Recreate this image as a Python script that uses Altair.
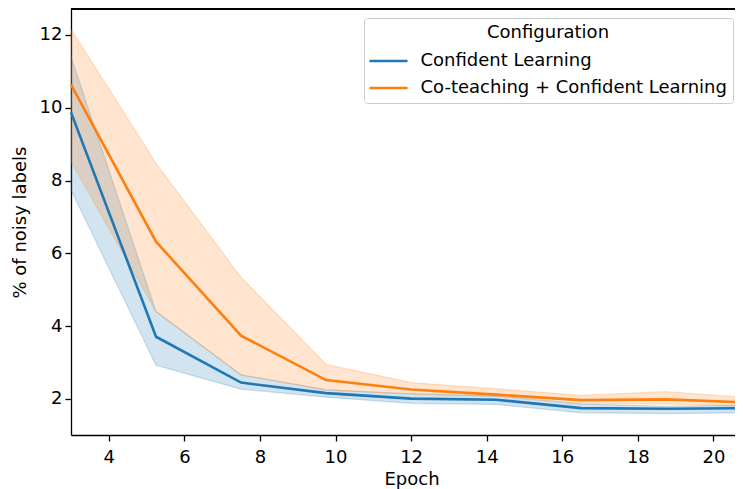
import altair as alt
import pandas as pd

epochs = [3, 5.25, 7.5, 9.75, 12, 14.25, 16.5, 18.75, 21]
configs = ["Confident Learning", "Co-teaching + Confident Learning"]
colors = ["#1f77b4", "#ff7f0e"]

cl_mean = [9.87, 3.71, 2.45, 2.16, 2.01, 1.98, 1.75, 1.73, 1.75]
cl_low = [7.74, 2.93, 2.27, 2.05, 1.88, 1.85, 1.62, 1.60, 1.62]
cl_high = [11.40, 4.40, 2.66, 2.25, 2.14, 2.08, 1.86, 1.80, 1.83]

ct_mean = [10.63, 6.32, 3.74, 2.52, 2.26, 2.12, 1.97, 1.99, 1.90]
ct_low = [8.52, 4.40, 2.66, 2.25, 2.14, 2.08, 1.88, 1.86, 1.80]
ct_high = [12.16, 8.47, 5.34, 2.95, 2.45, 2.28, 2.10, 2.20, 2.03]

x_ticks = [4, 6, 8, 10, 12, 14, 16, 18, 20]
y_ticks = [2, 4, 6, 8, 10, 12]

rows = []
for name, m, lo, hi in [(configs[0], cl_mean, cl_low, cl_high),
                        (configs[1], ct_mean, ct_low, ct_high)]:
    for e, a, b, c in zip(epochs, m, lo, hi):
        rows.append({"Epoch": e, "Configuration": name,
                     "mean": a, "low": b, "high": c})
df = pd.DataFrame(rows)

FONT = "DejaVu Sans"
W, H = 664, 426

x = alt.X("Epoch:Q",
          scale=alt.Scale(domain=[3, 20.57], nice=False, zero=False),
          axis=alt.Axis(values=x_ticks, title="Epoch", labelPadding=7,
                        titlePadding=4, titleX=340.5))
y_axis = alt.Axis(values=y_ticks, title="% of noisy labels", titlePadding=10)
y_scale = alt.Scale(domain=[1.011, 12.71], nice=False, zero=False)


def band_for(i):
    return alt.Chart(df).transform_filter(
        alt.datum.Configuration == configs[i]
    ).mark_area(color=colors[i], fillOpacity=0.2, stroke=colors[i],
                strokeOpacity=0.22, strokeWidth=1.2).encode(
        x=x,
        y=alt.Y("low:Q", scale=y_scale, axis=y_axis),
        y2="high:Q",
    )


line = alt.Chart(df).mark_line(strokeWidth=2.6).encode(
    x=x,
    y=alt.Y("mean:Q", scale=y_scale, axis=y_axis),
    color=alt.Color("Configuration:N",
                    scale=alt.Scale(domain=configs, range=colors),
                    legend=alt.Legend(title="Configuration", orient="none",
                                      legendX=293, legendY=9,
                                      titleAnchor="middle")),
)

top_spine = alt.Chart(df).mark_rule(color="black", strokeWidth=1.3).encode(
    x=alt.value(0), x2=alt.value(W + 20), y=alt.value(0)
)

chart = alt.layer(band_for(0), band_for(1), line, top_spine).properties(
    width=W,
    height=H,
    padding={"left": 63, "top": 1, "right": 0, "bottom": 54},
    autosize=alt.AutoSizeParams(type="none"),
).configure_view(
    stroke=None
).configure_axis(
    grid=False,
    domainColor="black", domainWidth=1.3,
    tickColor="black", tickWidth=1.3, tickSize=6,
    labelFont=FONT, labelFontSize=18, labelColor="black", labelPadding=3,
    titleFont=FONT, titleFontSize=18, titleColor="black", titleFontWeight="normal",
).configure_legend(
    padding=6,
    fillColor="rgba(255,255,255,0.8)",
    strokeColor="#cccccc",
    cornerRadius=3,
    symbolType="M-2,0H2",
    symbolSize=361,
    symbolOffset=7.5,
    symbolStrokeWidth=2.6,
    labelFont=FONT, labelFontSize=18, labelColor="black", labelOffset=21,
    labelLimit=500,
    titleFont=FONT, titleFontSize=18, titleColor="black", titleFontWeight="normal",
    titlePadding=8, rowPadding=7,
)

chart.save("out.html", embed_options={"renderer": "svg", "actions": False})
